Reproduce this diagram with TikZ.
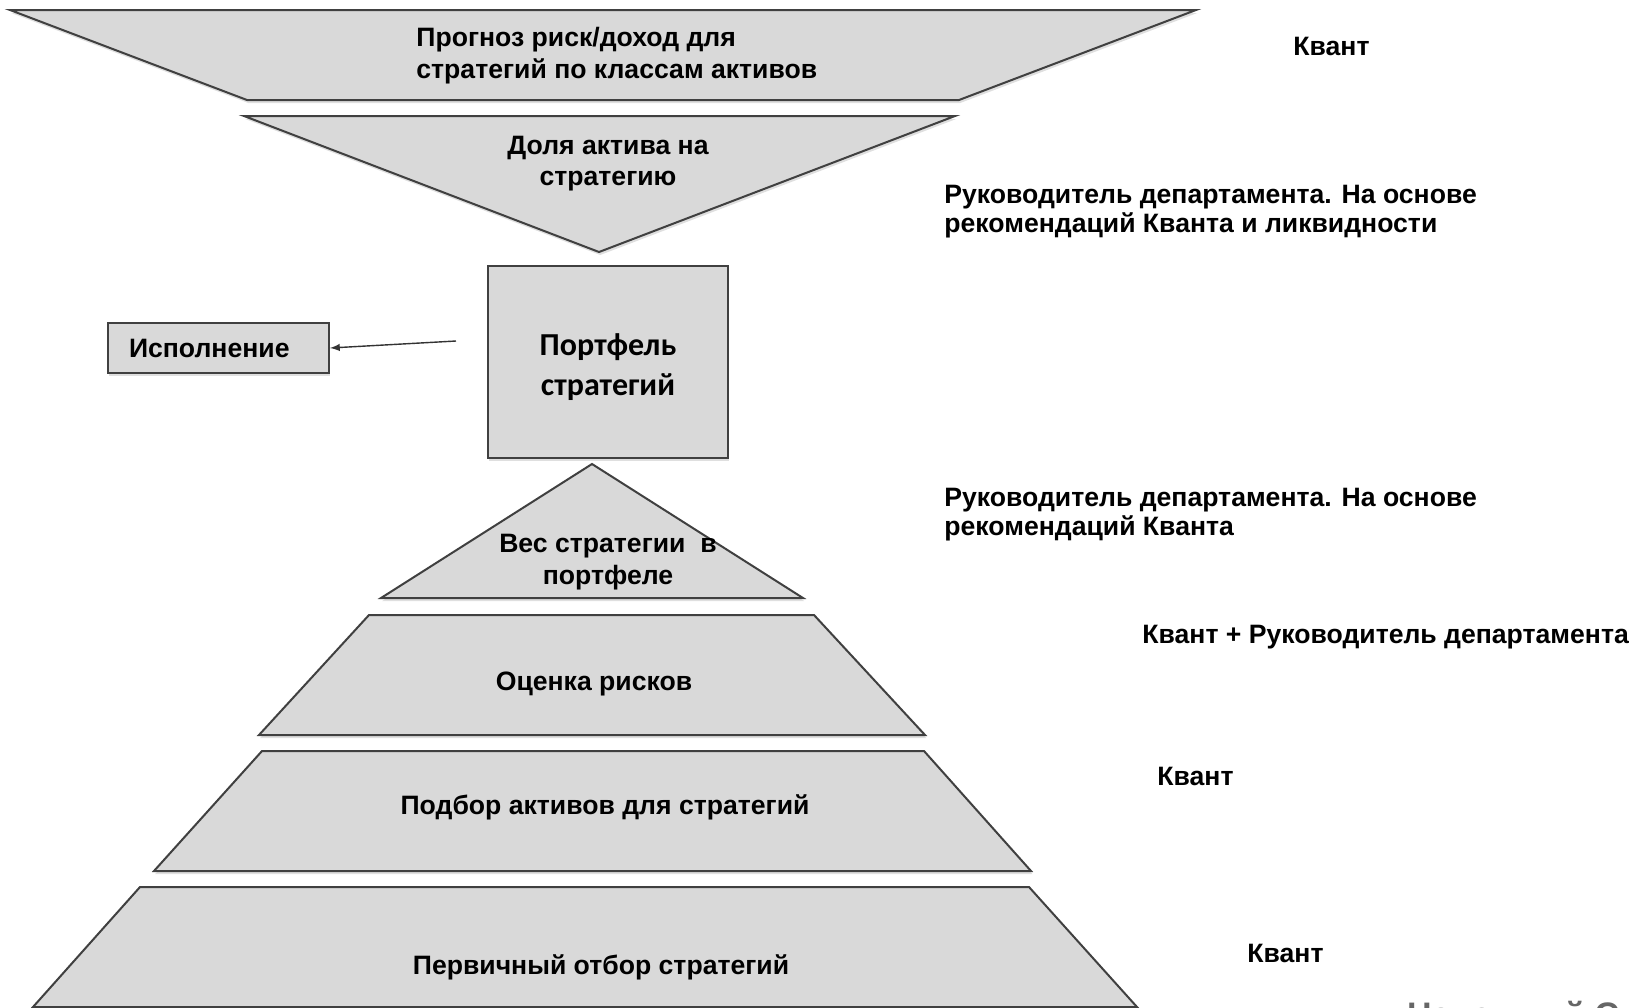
\documentclass[tikz,border=0pt]{standalone}
\usepackage{fontspec}
\setmainfont{Liberation Sans}
\newfontfamily\carlito{Carlito}
\usetikzlibrary{arrows}
\usetikzlibrary{shadows}

\begin{document}
\begin{tikzpicture}[x=0.5pt,y=-0.5pt]
      \tikzstyle{every node}=[font=\bfseries\fontsize{13.3}{15.5}\selectfont, align=center]
      \tikzstyle{block}=[draw=black!75, fill=black!15, line width=1pt,
        drop shadow={shadow xshift=0.6pt, shadow yshift=-1.5pt, opacity=0.25}]
      \tikzstyle{label}=[anchor=west, align=left, inner xsep=0pt, font=\bfseries\fontsize{13.3}{14.5}\selectfont]
      \useasboundingbox (0,0) rectangle (1631,1007);

      % shapes
      \path[block] (10,10) -- (1196,10) -- (959,100) -- (247,100) -- cycle;
      \path[block] (244,116) -- (955,116) -- (599,252) -- cycle;
      \path[block] (592,464) -- (803,598) -- (381,598) -- cycle;
      \path[block] (369,615) -- (814,615) -- (925,735) -- (259,735) -- cycle;
      \path[block] (262,751) -- (924,751) -- (1031,871) -- (154,871) -- cycle;
      \path[block] (140,887) -- (1029,887) -- (1137,1007) -- (33,1007) -- cycle;

      \node[block, minimum width=120pt, minimum height=96pt] (portf) at (608,362) {};
      \node[font=\carlito\bfseries\fontsize{16}{20}\selectfont] (portftext) at (608,367) {Портфель\\стратегий};
      \node[block, minimum width=110.5pt, minimum height=25pt, text width=89.5pt,
        inner xsep=10.5pt, align=left, font=\bfseries\fontsize{13.3}{16}\selectfont] (isp) at (218.5,348) {Исполнение};

      % texts in shapes
      \node[anchor=west, align=left, inner xsep=0pt, font=\bfseries\fontsize{13.3}{16}\selectfont] (prognoz) at (416,56) {Прогноз риск/доход для\\стратегий по классам активов};
      \node (dolya) at (608,164) {Доля актива на\\стратегию};
      \node[font=\bfseries\fontsize{13.3}{16}\selectfont] (ves) at (608,562) {Вес стратегии~~в\\портфеле};
      \node (ocenka) at (594,684) {Оценка рисков};
      \node (podbor) at (605,807) {Подбор активов для стратегий};
      \node (otbor) at (601,967) {Первичный отбор стратегий};

      % roles
      \node[label] (kvant1) at (1293,46) {Квант};
      \node[label] (ruk1) at (944,212) {Руководитель департамента. На основе\\рекомендаций Кванта и ликвидности};
      \node[label] (ruk2) at (944,515) {Руководитель департамента. На основе\\рекомендаций Кванта};
      \node[label] (kvruk) at (1142,637) {Квант + Руководитель департамента};
      \node[label] (kvant2) at (1157,776) {Квант};
      \node[label] (kvant3) at (1247,953) {Квант};

      \node[anchor=base west, text=black!60, font=\bfseries\fontsize{17}{20}\selectfont] (footer) at (1400,1026) {Надежный С};

      \coordinate (ispfrom) at (456,341);
      \draw[-latex, line width=0.7pt, black!80] (ispfrom) -- (isp.east);
\end{tikzpicture}
\end{document}
